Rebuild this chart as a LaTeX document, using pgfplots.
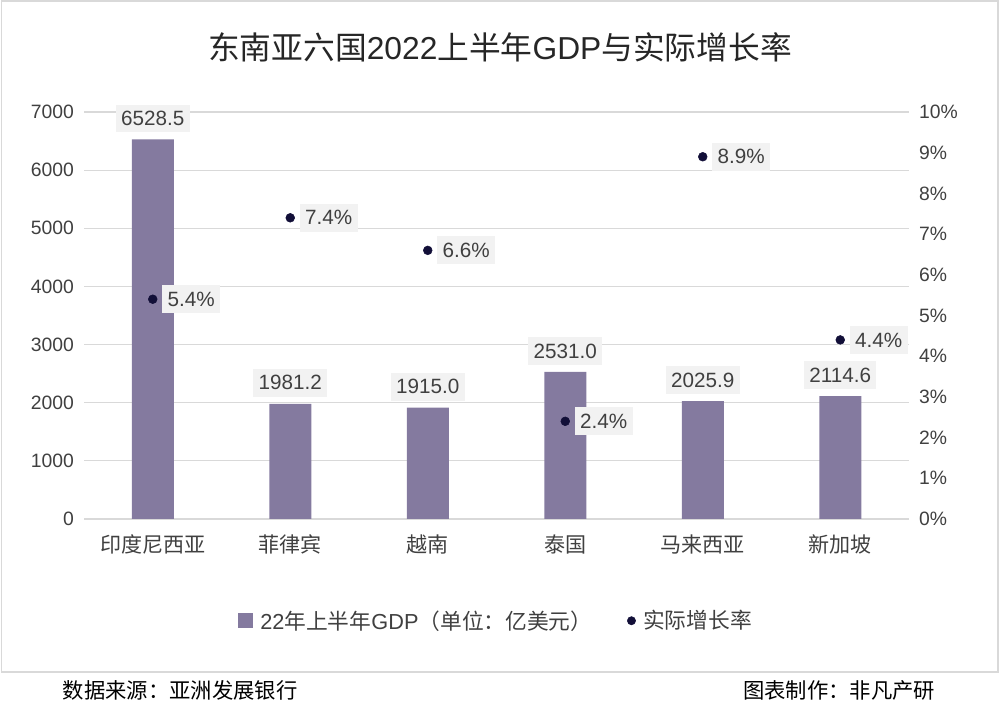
\documentclass[border=0pt]{standalone}
\usepackage{fontspec}
\setmainfont{Liberation Sans}
\newfontfamily\cjk{Noto Sans CJK SC}
\usepackage{pgfplots}
\pgfplotsset{compat=1.18}

\definecolor{barcol}{HTML}{847A9F}
\definecolor{dotcol}{HTML}{120F38}
\definecolor{labbg}{HTML}{F2F2F2}
\definecolor{gridcol}{HTML}{D9D9D9}
\definecolor{txt}{HTML}{404040}
\definecolor{titlecol}{HTML}{262626}

% GDP (USD 100m) and real growth rate (%), H1 2022
\pgfplotstableread{
x gdp growth
0 6528.5 5.4
1 1981.2 7.4
2 1915.0 6.6
3 2531.0 2.4
4 2025.9 8.9
5 2114.6 4.4
}\gdptable

\newcommand{\tickfont}{\fontsize{14.5}{17}\selectfont}
\newcommand{\labfont}{\fontsize{15.5}{18}\selectfont}

\begin{document}
\begin{tikzpicture}
% canvas and outer frame
\path (0pt,0pt) rectangle (750pt,534pt);
\draw[gridcol, line width=1pt] (1pt,30pt) rectangle (748.5pt,533.25pt);

% title
\node[text=titlecol, font=\fontsize{23.8}{28}\selectfont] at (375pt,498.75pt)
  {{\cjk 东南亚六国}2022{\cjk 上半年}GDP{\cjk 与实际增长率}};

% footer
\node[anchor=west, text=black, font=\fontsize{16}{19}\selectfont\cjk] at (43.5pt,16.5pt) {数据来源：亚洲发展银行};
\node[anchor=east, text=black, font=\fontsize{16}{19}\selectfont\cjk] at (705pt,16.5pt) {图表制作：非凡产研};

% left axis: GDP bars
\begin{axis}[
  at={(63pt,144.75pt)}, anchor=south west,
  scale only axis, width=618.75pt, height=305.25pt,
  xmin=-0.5, xmax=5.5, ymin=0, ymax=7000,
  ytick={0,1000,...,7000},
  xtick={0,...,5},
  xticklabels={印度尼西亚,菲律宾,越南,泰国,马来西亚,新加坡},
  xticklabel style={font=\fontsize{15.8}{18}\selectfont\cjk, text=txt, yshift=-8pt},
  yticklabel style={font=\tickfont, text=txt, xshift=-4pt},
  /pgf/number format/assume math mode=true,
  /pgf/number format/1000 sep={},
  axis line style={draw=none},
  major tick length=0pt,
  ymajorgrids, grid style={gridcol, line width=0.8pt},
  axis y line*=left,
  axis x line*=bottom,
  clip=false,
]
\addplot[ybar, bar width=31.5pt, fill=barcol, draw=none,
  nodes near coords={\pgfmathprintnumber[fixed,precision=1,zerofill,1000 sep={}]{\pgfplotspointmeta}},
  nodes near coords style={font=\labfont, text=txt, fill=labbg, inner xsep=4pt, inner ysep=5pt, anchor=south, yshift=5pt},
  point meta=explicit]
  table[x=x, y=gdp, meta=gdp] {\gdptable};
\end{axis}

% right axis: growth rate dots
\begin{axis}[
  at={(63pt,144.75pt)}, anchor=south west,
  scale only axis, width=618.75pt, height=305.25pt,
  xmin=-0.5, xmax=5.5, ymin=0, ymax=10,
  ytick={0,1,...,10},
  yticklabel={\pgfmathprintnumber{\tick}\%},
  yticklabel style={font=\tickfont, text=txt, xshift=4pt},
  /pgf/number format/assume math mode=true,
  axis y line*=right, axis x line=none,
  axis line style={draw=none},
  major tick length=0pt,
  clip=false,
  legend style={at={(0.5,-0.25)}, anchor=center, draw=none, fill=none,
    font=\fontsize{16.3}{19}\selectfont, text=txt,
    column sep=3.5pt,
    /tikz/every even column/.append style={column sep=24pt}},
  legend columns=2,
  legend cell align=left,
]
\addlegendimage{legend image code/.code={\fill[barcol] (0pt,-5pt) rectangle (10.5pt,5.5pt);}}
\addlegendentry{22{\cjk 年上半年}GDP{\cjk （单位：亿美元）}}
\addplot[only marks, mark=*, mark size=3.3pt, mark options={fill=dotcol, draw=dotcol},
  nodes near coords={\pgfmathprintnumber[fixed,precision=1,zerofill]{\pgfplotspointmeta}\%},
  nodes near coords style={font=\labfont, text=txt, fill=labbg, inner xsep=4pt, inner ysep=5pt, anchor=west, xshift=7pt},
  point meta=explicit,
  legend image code/.code={\fill[dotcol] (3pt,0pt) circle (3.1pt);}]
  table[x=x, y=growth, meta=growth] {\gdptable};
\addlegendentry{{\cjk 实际增长率}}
\end{axis}
\end{tikzpicture}
\end{document}
